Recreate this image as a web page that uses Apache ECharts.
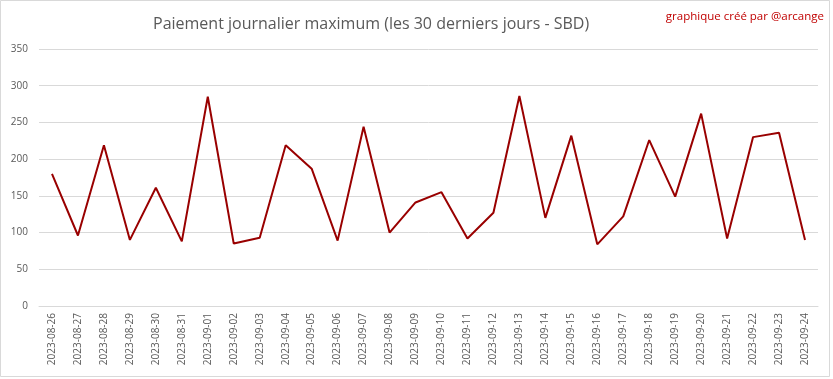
<!DOCTYPE html>
<html><head><meta charset="utf-8">
<script src="https://cdn.jsdelivr.net/npm/echarts@6/dist/echarts.min.js"></script>
<style>html,body{margin:0;padding:0;background:#fff}#c{width:833px;height:379px}</style>
</head><body><div id="c"></div>
<script>
const categories = ["2023-08-26","2023-08-27","2023-08-28","2023-08-29","2023-08-30","2023-08-31","2023-09-01","2023-09-02","2023-09-03","2023-09-04","2023-09-05","2023-09-06","2023-09-07","2023-09-08","2023-09-09","2023-09-10","2023-09-11","2023-09-12","2023-09-13","2023-09-14","2023-09-15","2023-09-16","2023-09-17","2023-09-18","2023-09-19","2023-09-20","2023-09-21","2023-09-22","2023-09-23","2023-09-24"];
const maxPayout = [180,96,219,90,161,88,285,85,93,219,187,89,244,100,141,155,92,127,286,120,232,84,122,226,149,262,92,230,236,90];
const titleText = "Paiement journalier maximum (les 30 derniers jours - SBD)";
const creditText = "graphique créé par @arcange";

const chart = echarts.init(document.getElementById('c'), null, {renderer:'canvas'});
const font = "'Open Sans', 'Liberation Sans', sans-serif";
chart.setOption({
  animation:false,
  backgroundColor:'#fff',
  title:{text:titleText,left:148,top:11,textStyle:{fontFamily:font,fontSize:16,fontWeight:'normal',color:'#595959'}},
  graphic:[
    {type:'rect',shape:{x:0.5,y:0.5,width:829,height:376},style:{fill:'none',stroke:'#d9d9d9',lineWidth:1},silent:true},
    {type:'text',right:9,top:11,style:{text:creditText,fontFamily:font,fontSize:11.5,fill:'#c00000'}}
  ],
  grid:{left:39,right:15,top:49,bottom:73},
  xAxis:{type:'category',data:categories,boundaryGap:true,
    axisLine:{lineStyle:{color:'#d9d9d9'}},axisTick:{show:false},
    axisLabel:{rotate:90,interval:0,fontFamily:font,fontSize:10,color:'#595959',margin:7}},
  yAxis:{type:'value',min:0,max:350,interval:50,
    axisLine:{show:false},axisTick:{show:false},
    splitLine:{lineStyle:{color:'#d9d9d9'}},
    axisLabel:{fontFamily:font,fontSize:10,color:'#595959',margin:11}},
  series:[{type:'line',data:maxPayout,symbol:'none',lineStyle:{color:'#990000',width:2}}]
});
</script></body></html>
